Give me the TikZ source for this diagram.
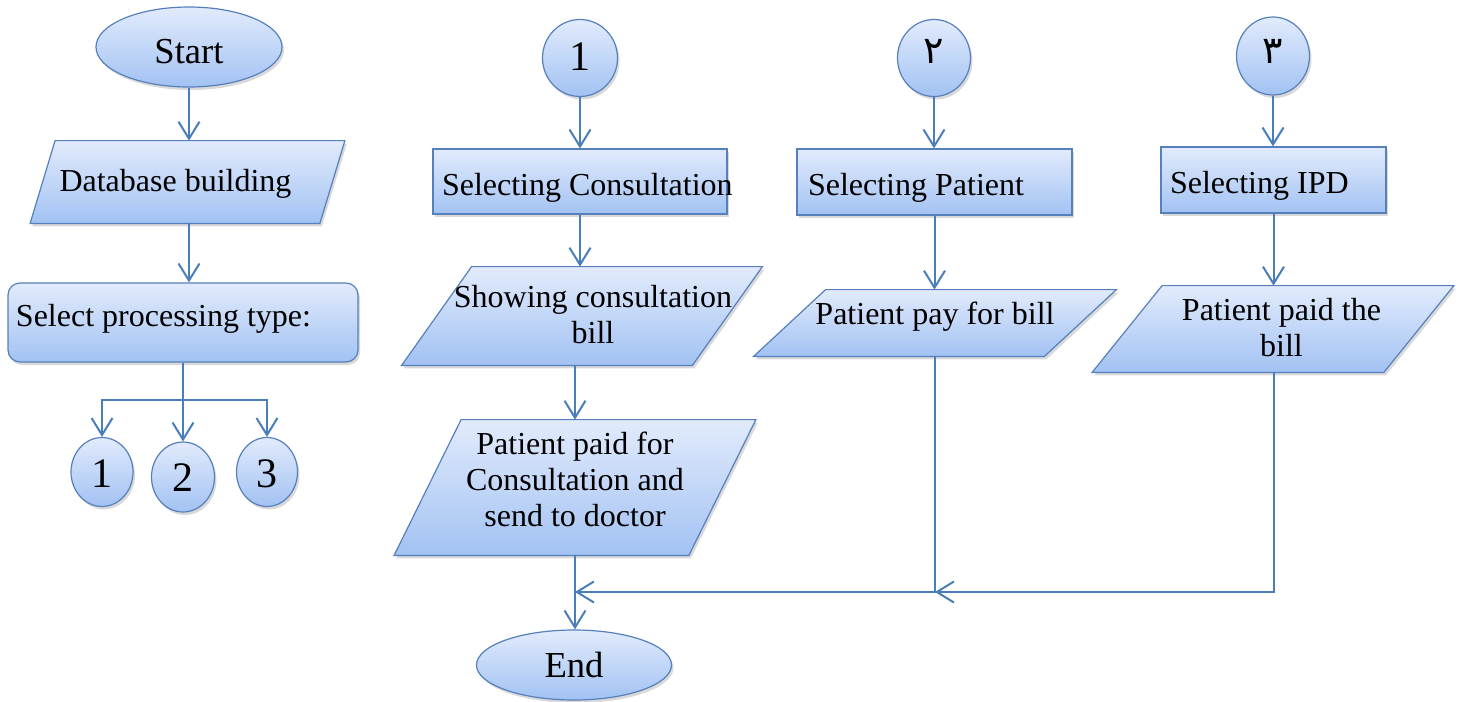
\documentclass[tikz,border=0pt]{standalone}
\usepackage{fontspec}
\setmainfont{Liberation Serif}
\newfontfamily\arabicfont[Script=Arabic]{DejaVu Sans}
\TeXXeTstate=1
\usetikzlibrary{shapes.geometric,arrows.meta,calc,shadows}
\pgfdeclarelayer{back}
\pgfsetlayers{back,main}

\definecolor{fillT}{RGB}{226,235,252}
\definecolor{fillB}{RGB}{162,194,243}
\definecolor{bord}{RGB}{86,128,188}
\definecolor{lc}{RGB}{74,126,187}

\begin{document}
\begin{tikzpicture}[
  x=0.5pt, y=-0.5pt,
  boxface/.style={draw=bord, line width=0.6pt, top color=fillT, bottom color=fillB,
    inner sep=0pt,
    drop shadow={shadow xshift=1pt, shadow yshift=-1.5pt, opacity=0.15, fill=black}},
  term/.style={boxface, ellipse, font=\fontsize{18.3}{22}\selectfont},
  conn/.style={boxface, ellipse, font=\fontsize{21}{24}\selectfont},
  proc/.style={boxface, rectangle, font=\fontsize{16}{18}\selectfont},
  para/.style={rectangle, inner sep=0pt, font=\fontsize{16}{18}\selectfont},
  paraface/.style={draw=bord, line width=0.6pt, top color=fillT, bottom color=fillB},
  parashadow/.style={fill=black, opacity=0.15},
  bl/.style={text height=#1, text depth=0pt},
  bd/.style={text height=0pt, text depth=#1},
  link/.style={draw=lc, line width=1pt},
  arr/.style={link, -{Straight Barb[length=8.5pt,width=10.5pt]}},
  ar/.style={font=\arabicfont\fontsize{19}{22}\selectfont}
]
\path[use as bounding box] (0,0) rectangle (1469,702);

% ---- left column: start and choice of processing type
\node[term, minimum width=93pt, minimum height=40pt, bl=16pt] (start) at (189,47) {Start};
\node[para, minimum width=144.5pt, minimum height=41pt, bl=9.5pt] (db) at (175.5,182) {Database building};
\node[proc, rounded corners=6pt, minimum width=175pt, minimum height=39.5pt, inner xsep=4pt, bl=3.5pt]
  (spt) at (183,322.5) {\makebox[167pt][l]{Select processing type:}};
\node[conn, minimum width=31pt, minimum height=34.5pt, bl=15pt] (b1) at (102,472) {1};
\node[conn, minimum width=31.5pt, minimum height=35pt, bl=14pt] (b2) at (183,477) {2};
\node[conn, minimum width=30.5pt, minimum height=34.5pt, bl=15pt] (b3) at (267,472) {3};

% ---- consultation branch
\node[conn, minimum width=37.5pt, minimum height=38.5pt, bl=12pt] (c1) at (580,58) {1};
\node[proc, minimum width=147pt, minimum height=32.5pt, inner xsep=4.5pt, bl=13.5pt]
  (selc) at (580,181.5) {\makebox[138pt][l]{Selecting Consultation}};
\node[para, minimum width=145pt, minimum height=49pt, bd=9pt] (scb) at (593,316)
  {\begin{tabular}[t]{@{}c@{}}Showing consultation\\ bill\end{tabular}};
\node[para, minimum width=147pt, minimum height=67.5pt, bd=33.5pt] (ppc) at (575,487.5)
  {\begin{tabular}[t]{@{}c@{}}Patient paid for\\ Consultation and\\ send to doctor\end{tabular}};
\node[term, minimum width=97.5pt, minimum height=35pt, bl=12pt] (end) at (574,665) {End};

% ---- patient branch
\node[conn, ar, minimum width=36.5pt, minimum height=38.5pt, bl=5pt] (c2) at (934,58) {\beginR ٢\endR};
\node[proc, minimum width=137.5pt, minimum height=33pt, inner xsep=5.5pt, bl=13pt]
  (selp) at (934.5,182) {\makebox[126.5pt][l]{Selecting Patient}};
\node[para, minimum width=145pt, minimum height=33pt, bl=1pt] (ppb) at (935,323) {Patient pay for bill};

% ---- IPD branch
\node[conn, ar, minimum width=36.5pt, minimum height=39pt, bl=7pt] (c3) at (1273,56) {\beginR ٣\endR};
\node[proc, minimum width=112.5pt, minimum height=33pt, inner xsep=4.5pt, bl=13pt]
  (seli) at (1273.5,180) {\makebox[103.5pt][l]{Selecting IPD}};
\node[para, minimum width=145.5pt, minimum height=43pt, bd=9pt] (ptb) at (1281.5,329)
  {\begin{tabular}[t]{@{}c@{}}Patient paid the\\ bill\end{tabular}};

% ---- white page and parallelogram outlines behind the input/output texts
% \n: node, \s: horizontal slant, \d: shift of the outline against the text
\begin{pgfonlayer}{back}
\fill[white] (0,0) rectangle (1469,702);
\foreach \n/\s/\d in {db/25/12, scb/70/-11, ppc/67/0, ppb/72/0, ptb/70/-8.5}{
  \path[parashadow]
    ($(\n.north west)+(\s/2+\d+2,3)$) -- ($(\n.north east)+(\s/2+\d+2,3)$) --
    ($(\n.south east)+(-\s/2+\d+2,3)$) -- ($(\n.south west)+(-\s/2+\d+2,3)$) -- cycle;
  \shade[paraface]
    ($(\n.north west)+(\s/2+\d,0)$) -- ($(\n.north east)+(\s/2+\d,0)$) --
    ($(\n.south east)+(-\s/2+\d,0)$) -- ($(\n.south west)+(-\s/2+\d,0)$) -- cycle;
}
\end{pgfonlayer}

% ---- connectors
\draw[arr] (start.south) -- (start.south |- db.north);
\draw[arr] (start.south |- db.south) -- (start.south |- spt.north);
\coordinate (fork) at (183,400);
\draw[link] (spt.south) -- (fork);
\draw[arr] (fork) -| (b1.north);
\draw[arr] (fork) -- (b2.north);
\draw[arr] (fork) -| (b3.north);

\draw[arr] (c1.south) -- (c1.south |- selc.north);
\draw[arr] (selc.south) -- (selc.south |- scb.north);
\draw[arr] (ppc.north |- scb.south) -- (ppc.north);
\draw[arr] (ppc.south) -- (ppc.south |- end.north);

\draw[arr] (c2.south) -- (c2.south |- selp.north);
\draw[arr] (selp.south) -- (selp.south |- ppb.north);

\draw[arr] (c3.south) -- (c3.south |- seli.north);
\draw[arr] (seli.south) -- (seli.south |- ptb.north);

\coordinate (join1) at (ppc.south |- 0,592);
\coordinate (join2) at (ppb.south |- join1);
\draw[arr] (ppb.south) |- (join1);
\draw[arr] (seli.south |- ptb.south) |- (join2);
\end{tikzpicture}
\end{document}
